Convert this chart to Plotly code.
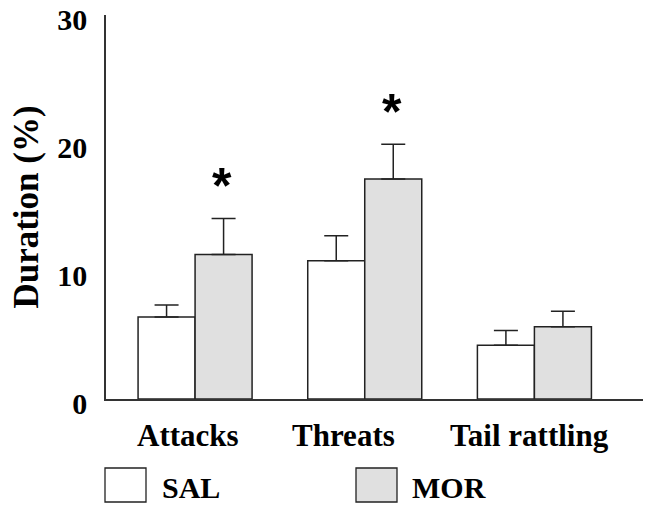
import plotly.graph_objects as go

categories = ["Attacks", "Threats", "Tail rattling"]
sal_values = [6.4, 10.8, 4.2]
sal_err = [0.95, 1.95, 1.15]
mor_values = [11.3, 17.2, 5.65]
mor_err = [2.8, 2.7, 1.2]
y_ticks = [0, 10, 20, 30]
sig_marks = [("Attacks", 17.2), ("Threats", 23.0)]

SERIF = "Liberation Serif, Times New Roman, serif"
LINE = "#222222"

fig = go.Figure()
fig.add_trace(go.Bar(
    name="SAL", x=categories, y=sal_values,
    marker=dict(color="white", line=dict(color=LINE, width=1.5)),
    error_y=dict(type="data", array=sal_err, arrayminus=[0] * 3, symmetric=False,
                 color=LINE, thickness=1.5, width=12),
))
fig.add_trace(go.Bar(
    name="MOR", x=categories, y=mor_values,
    marker=dict(color="#e0e0e0", line=dict(color=LINE, width=1.5)),
    error_y=dict(type="data", array=mor_err, arrayminus=[0] * 3, symmetric=False,
                 color=LINE, thickness=1.5, width=12),
))

annotations = []
for cat, yv in sig_marks:
    annotations.append(dict(x=cat, y=yv, xref="x", yref="y", text="<b>*</b>",
                            showarrow=False, xshift=27, yshift=-7,
                            font=dict(family="Liberation Sans, Arial, sans-serif", size=50, color="black")))

label_shifts = [-7, -21, -5]
for cat, sh in zip(categories, label_shifts):
    annotations.append(dict(x=cat, y=0, xref="x", yref="y", text=f"<b>{cat}</b>",
                            showarrow=False, xshift=sh, yshift=-36, yanchor="middle",
                            font=dict(family=SERIF, size=31, color="black")))

# legend
shapes = []
legend_items = [("SAL", "white", 105, 160), ("MOR", "#e0e0e0", 356, 410)]
W, H = 649, 505
for name, col, bx, tx in legend_items:
    shapes.append(dict(type="rect", xref="paper", yref="paper",
                       x0=(bx - 106) / 537, x1=(bx + 41 - 106) / 537,
                       y0=-(468 - 399) / 384, y1=-(502 - 399) / 384,
                       fillcolor=col, line=dict(color=LINE, width=1.3)))
    annotations.append(dict(xref="paper", yref="paper", x=(tx - 106) / 537, y=-(487 - 399) / 384,
                            xanchor="left", yanchor="middle", showarrow=False,
                            text=f"<b>{name}</b>", font=dict(family=SERIF, size=30, color="black")))

fig.update_layout(
    width=W, height=H,
    margin=dict(l=106, r=6, t=15, b=106, autoexpand=False),
    paper_bgcolor="white", plot_bgcolor="white",
    barmode="group", bargap=0.328, bargroupgap=0,
    showlegend=False,
    annotations=annotations, shapes=shapes,
    xaxis=dict(range=[-0.525, 2.64], showticklabels=False, showgrid=False, zeroline=False,
               showline=True, linecolor="#333333", linewidth=1.5, ticks="", automargin=False),
    yaxis=dict(range=[0, 30.01], tickvals=y_ticks, showgrid=False, zeroline=False,
               showline=True, linecolor="#333333", linewidth=1.5, ticks="",
               ticklabelstandoff=11, ticklabelshift=4, automargin=False, ticklabeloverflow="allow",
               tickfont=dict(family=SERIF, size=30, color="black", weight="bold"),
               title=dict(text="<b>Duration (%)</b>", font=dict(family=SERIF, size=35, color="black"),
                          standoff=8)),
)

fig.write_html("out.html", post_script="document.body.style.margin='0';",
               config={"displayModeBar": False})
